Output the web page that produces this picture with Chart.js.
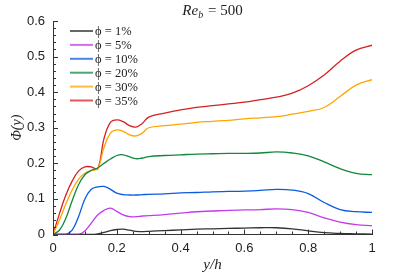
<!DOCTYPE html>
<html>
<head>
<meta charset="utf-8">
<script src="https://cdn.jsdelivr.net/npm/chart.js@4.4.0/dist/chart.umd.min.js"></script>
<style>
  html, body { margin: 0; padding: 0; background: #fff; }
  #wrap { width: 411px; height: 274px; }
</style>
</head>
<body>
<div id="wrap"><canvas id="myChart"></canvas></div>
<script>
const xs = [0, 0.02, 0.04, 0.06, 0.08, 0.1, 0.12, 0.14, 0.16, 0.18, 0.2, 0.22, 0.24, 0.26, 0.28, 0.3,
  0.35, 0.4, 0.45, 0.5, 0.55, 0.6, 0.65, 0.7, 0.75, 0.8, 0.85, 0.9, 0.95, 1];

const phi1 = [0, 0, 0, 0, 0, 0, 0, 0.002, 0.006, 0.011, 0.014, 0.015, 0.012, 0.009, 0.008, 0.009,
  0.011, 0.013, 0.015, 0.016, 0.017, 0.018, 0.019, 0.019, 0.016, 0.01, 0.005, 0.003, 0.002, 0.001];
const phi5 = [0, 0, 0, 0, 0, 0.01, 0.032, 0.055, 0.068, 0.074, 0.065, 0.055, 0.05, 0.05, 0.052, 0.053,
  0.056, 0.06, 0.064, 0.066, 0.068, 0.069, 0.07, 0.072, 0.07, 0.062, 0.047, 0.035, 0.028, 0.025];
const phi10 = [0, 0, 0, 0.012, 0.05, 0.1, 0.127, 0.134, 0.135, 0.127, 0.116, 0.112, 0.111, 0.111, 0.112, 0.113,
  0.114, 0.117, 0.118, 0.12, 0.121, 0.122, 0.124, 0.127, 0.125, 0.115, 0.09, 0.07, 0.064, 0.062];
const phi20 = [0, 0.012, 0.045, 0.095, 0.14, 0.168, 0.18, 0.187, 0.2, 0.212, 0.222, 0.224, 0.218, 0.213, 0.215, 0.219,
  0.222, 0.224, 0.226, 0.227, 0.228, 0.228, 0.229, 0.232, 0.229, 0.221, 0.204, 0.185, 0.172, 0.168];
const phi30 = [0, 0.04, 0.085, 0.125, 0.155, 0.172, 0.18, 0.185, 0.245, 0.285, 0.294, 0.29, 0.28, 0.277, 0.285, 0.3,
  0.306, 0.31, 0.315, 0.318, 0.321, 0.325, 0.328, 0.331, 0.338, 0.346, 0.357, 0.388, 0.42, 0.435];
const phi35 = [0, 0.058, 0.11, 0.15, 0.178, 0.19, 0.19, 0.185, 0.27, 0.315, 0.322, 0.317, 0.306, 0.302, 0.312, 0.33,
  0.341, 0.35, 0.357, 0.362, 0.367, 0.372, 0.379, 0.386, 0.397, 0.418, 0.448, 0.487, 0.518, 0.532];

const labels = ['ϕ = 1%', 'ϕ = 5%', 'ϕ = 10%', 'ϕ = 20%', 'ϕ = 30%', 'ϕ = 35%'];
const colors = ['#333333', '#c43ce8', '#0b5be0', '#13883d', '#ffa500', '#d42222'];
const series = [phi1, phi5, phi10, phi20, phi30, phi35];

const xTicks = [0, 0.2, 0.4, 0.6, 0.8, 1];
const yTicks = [0, 0.1, 0.2, 0.3, 0.4, 0.5, 0.6];

const ctx = document.getElementById('myChart');

// ticks pointing inward, with minor ticks
const innerTicks = {
  id: 'innerTicks',
  afterDraw(chart) {
    const c = chart.ctx;
    const xS = chart.scales.x, yS = chart.scales.y;
    const area = chart.chartArea;
    c.save();
    c.strokeStyle = '#333';
    c.lineWidth = 1;
    c.beginPath();
    for (let i = 0; i <= 20; i++) {
      const px = Math.round(xS.getPixelForValue(i * 0.05)) + 0.5;
      const len = (i % 4 === 0) ? 5 : 3;
      c.moveTo(px, area.bottom);
      c.lineTo(px, area.bottom - len);
    }
    for (let i = 0; i <= 30; i++) {
      const py = Math.round(yS.getPixelForValue(i * 0.02)) + 0.5;
      const len = (i % 5 === 0) ? 5 : 3;
      c.moveTo(area.left, py);
      c.lineTo(area.left + len, py);
    }
    c.stroke();
    c.restore();
  }
};

// title with subscript and legend inside the plot
const extras = {
  id: 'extras',
  afterDraw(chart) {
    const c = chart.ctx;
    const area = chart.chartArea;
    c.save();
    c.fillStyle = '#222';
    c.textBaseline = 'alphabetic';
    const cx = (area.left + area.right) / 2;
    c.font = 'italic 15px "Liberation Serif"';
    const wRe = c.measureText('Re').width;
    c.font = 'italic 10px "Liberation Serif"';
    const wb = c.measureText('b').width;
    c.font = '15px "Liberation Serif"';
    const wRest = c.measureText(' = 500').width;
    let x0 = cx - (wRe + wb + 1 + wRest) / 2;
    c.font = 'italic 15px "Liberation Serif"';
    c.fillText('Re', x0, 15);
    x0 += wRe;
    c.font = 'italic 10px "Liberation Serif"';
    c.fillText('b', x0, 18);
    x0 += wb + 1;
    c.font = '15px "Liberation Serif"';
    c.fillText(' = 500', x0, 15);

    c.font = '12.5px "Liberation Serif"';
    c.textBaseline = 'middle';
    chart.data.datasets.forEach((ds, i) => {
      const y = 31 + i * 13.9;
      c.globalAlpha = 0.75;
      c.strokeStyle = ds.borderColor;
      c.lineWidth = 2;
      c.beginPath();
      c.moveTo(70, y);
      c.lineTo(93, y);
      c.stroke();
      c.globalAlpha = 1;
      c.fillStyle = '#222';
      c.fillText(ds.label, 95, y + 1);
    });
    c.restore();
  }
};

new Chart(ctx, {
  type: 'line',
  data: {
    datasets: series.map((s, i) => ({
      label: labels[i],
      data: s.map((v, j) => ({ x: xs[j], y: v })),
      borderColor: colors[i],
      backgroundColor: colors[i],
      borderWidth: 1.3,
      pointRadius: 0,
      fill: false,
      tension: 0.4
    }))
  },
  options: {
    responsive: true,
    maintainAspectRatio: false,
    animation: false,
    layout: { padding: { top: 21, right: 39, left: 0, bottom: 0 } },
    plugins: {
      legend: { display: false },
      title: { display: false },
      tooltip: { enabled: false }
    },
    scales: {
      x: {
        type: 'linear',
        min: 0,
        max: 1,
        afterBuildTicks: (scale) => { scale.ticks = xTicks.map(v => ({ value: v })); },
        afterFit: (scale) => { scale.height = 39.5; },
        grid: { display: true, drawOnChartArea: false, drawTicks: false },
        border: { display: true, color: '#333', width: 1 },
        ticks: {
          padding: 6,
          color: '#222',
          font: { family: 'Liberation Sans', size: 13 },
          callback: (v) => String(v)
        },
        title: {
          display: true,
          text: 'y/h',
          color: '#222',
          padding: { top: 2, bottom: 0 },
          font: { family: 'Liberation Serif', size: 15, style: 'italic' }
        }
      },
      y: {
        min: 0,
        max: 0.6,
        afterBuildTicks: (scale) => { scale.ticks = yTicks.map(v => ({ value: v })); },
        afterFit: (scale) => { scale.width = 53; },
        grid: { display: true, drawOnChartArea: false, drawTicks: false },
        border: { display: true, color: '#333', width: 1 },
        ticks: {
          padding: 8,
          color: '#222',
          font: { family: 'Liberation Sans', size: 13 },
          callback: (v) => String(v)
        },
        title: {
          display: true,
          text: 'Φ(y)',
          color: '#222',
          padding: { top: 9, bottom: 0 },
          font: { family: 'Liberation Serif', size: 14, style: 'italic' }
        }
      }
    }
  },
  plugins: [innerTicks, extras]
});
</script>
</body>
</html>
